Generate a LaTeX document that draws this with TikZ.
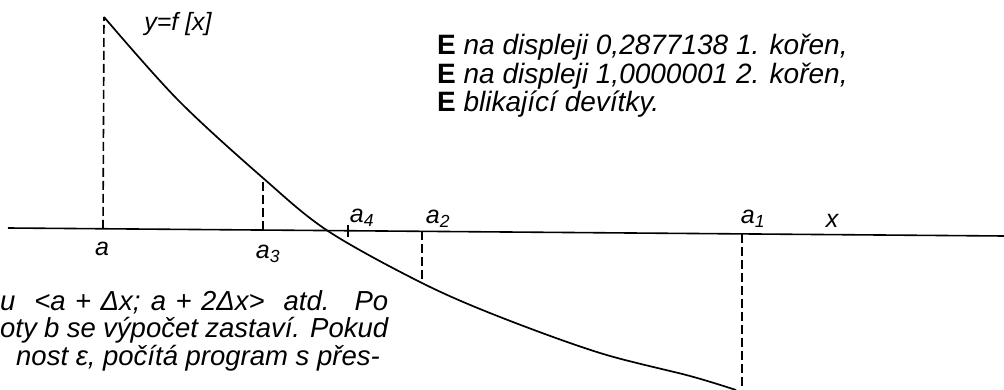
\documentclass[tikz,border=0pt]{standalone}
\usepackage{fontspec}
\setmainfont{Liberation Sans}
\begin{document}
\begin{tikzpicture}[x=1pt,y=-1pt]
\tikzset{
  axisline/.style={line width=1.6pt},
  curveline/.style={line width=1.7pt},
  guide/.style={line width=1.6pt, dash pattern=on 9pt off 4pt},
  tickline/.style={line width=1.4pt},
  lbl/.style={font=\fontsize{25}{28}\selectfont\itshape, inner sep=0pt},
  txtr/.style={font=\fontsize{28}{29}\selectfont\itshape, inner sep=0pt},
  txtl/.style={font=\fontsize{27.5}{28}\selectfont\itshape, inner sep=0pt},
}
\useasboundingbox (0,0) rectangle (1004,390);
% axis
\coordinate (axL) at (8,228);
\coordinate (axR) at (1004,236);
\draw[axisline] (axL) -- (axR);
% points on axis and curve
\coordinate (A)   at (103,228.8);
\coordinate (At)  at (104,17);
\coordinate (A3)  at (263,230);
\coordinate (A3t) at (263,178);
\coordinate (A4u) at (348,225);
\coordinate (A4d) at (348,237);
\coordinate (A2)  at (422,231.3);
\coordinate (A2b) at (422,283);
\coordinate (A1)  at (742,233.9);
\coordinate (A1b) at (742,392);
% curve
\draw[curveline] plot[smooth, tension=0.55] coordinates {(104,17) (178,100) (263,178) (328,231) (422,283) (500,317) (600,353) (690,376) (736,390)};
% dashed guides
\draw[guide] (A) -- (At);
\draw[guide] (A3) -- (A3t);
\draw[guide] (A2) -- (A2b);
\draw[guide] (A1) -- (A1b);
\draw[tickline] (A4u) -- (A4d);
% labels
\node[lbl] (la)  at (102,249) {a};
\node[lbl] (la3) at (268,254) {a\textsubscript{3}};
\node[lbl] (la4) at (362,218) {a\textsubscript{4}};
\node[lbl] (la2) at (438,219) {a\textsubscript{2}};
\node[lbl] (la1) at (753,219) {a\textsubscript{1}};
\node[lbl] (lx)  at (832,221) {x};
\node[lbl] (lf)  at (178,24) {y=f [x]};
% right text block
\node[txtr, anchor=base west] (r1) at (437,55) {{\normalfont\bfseries E} na displeji 0,2877138 1. kořen,};
\node[txtr, anchor=base west] (r2) at (437,83.5) {{\normalfont\bfseries E} na displeji 1,0000001 2. kořen,};
\node[txtr, anchor=base west] (r3) at (437,112) {{\normalfont\bfseries E} blikající devítky.};
% left text block
\node[txtl, anchor=base west] (l1) at (0,310) {\makebox[388pt][s]{u \ <a + Δx; a + 2Δx> \ atd. \ Po}};
\node[txtl, anchor=base west] (l2) at (0,337.5) {\makebox[388pt][s]{oty b se výpočet zastaví. Pokud}};
\node[txtl, anchor=base east] (l3) at (380,365) {nost ε, počítá program s přes-};
\end{tikzpicture}
\end{document}
